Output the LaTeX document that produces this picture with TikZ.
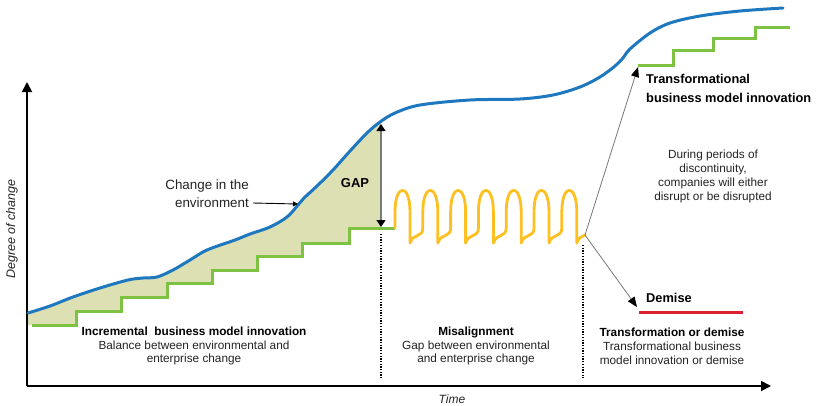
\documentclass[tikz,border=0pt]{standalone}
\usepackage{fontspec}
\setmainfont{Liberation Sans}
\usetikzlibrary{arrows.meta}
\definecolor{cblue}{RGB}{30,120,192}
\definecolor{cgreen}{RGB}{125,194,66}
\definecolor{cyellow}{RGB}{252,192,35}
\definecolor{cred}{RGB}{222,32,48}
\definecolor{cfill}{RGB}{221,224,178}
\definecolor{ctext}{RGB}{35,35,35}
\definecolor{cgray}{RGB}{120,120,120}
\begin{document}
\begin{tikzpicture}[x=1pt,y=-1pt,
  axis/.style={line width=1.8pt,-{Triangle[width=10pt,length=10pt]}},
  envline/.style={cblue,line width=3pt,line cap=round},
  stepline/.style={cgreen,line width=3pt},
  waveline/.style={cyellow,line width=2.8pt,line join=round,line cap=round},
  demiseline/.style={cred,line width=3pt},
  gaparrow/.style={cgray,line width=1.3pt,{Triangle[width=9pt,length=7pt,color=black]}-{Triangle[width=9pt,length=7pt,color=black]}},
  patharrow/.style={cgray,line width=0.8pt,-{Triangle[width=8pt,length=10pt,color=black]}},
  pointer/.style={black,line width=0.9pt,-{Triangle[width=5pt,length=5pt]}},
  divider/.style={black,line width=1.3pt,dash pattern=on 1.3pt off 1.4pt},
  headtxt/.style={font=\fontsize{12}{14}\selectfont\bfseries,text=black,inner sep=0pt},
  bodytxt/.style={font=\fontsize{11.8}{13.8}\selectfont,text=ctext,align=center,inner sep=0pt},
  bigtxt/.style={font=\fontsize{12.8}{19}\selectfont\bfseries,text=black,inner sep=0pt,align=left},
  envtxt/.style={font=\fontsize{13.4}{18}\selectfont,text=ctext,inner sep=0pt,align=right},
  axistxt/.style={font=\fontsize{12}{14}\selectfont\itshape,text=ctext,inner sep=0pt}
]
\useasboundingbox (0,0) rectangle (819,405);

\def\envpoints{(28,313) (50,306) (73,297) (100,288) (128,280) (143,278) (157,277) (173,270)
 (190,260) (207,250) (235,240) (250,234) (270,227) (287,217) (298,205) (304,198) (317,186)
 (333,170) (350,151) (367,133) (380,122) (395,113) (420,105) (470,100) (520,99)
 (553,95) (580,87) (600,77) (615,66) (623,58) (630,49) (650,33) (670,23)
 (700,16) (740,11) (783,8)}

% gap fill between environment curve and enterprise steps
\begin{scope}
\clip (0,0) rectangle (381,405);
\fill[cfill] plot[smooth,tension=0.55] coordinates {\envpoints}
 -- (790,228) -- (349,228) -- (349,243) -- (302,243) -- (302,256) -- (257,256)
 -- (257,270) -- (212,270) -- (212,283) -- (167,283) -- (167,297) -- (121,297)
 -- (121,311) -- (76,311) -- (76,325) -- (28,325) -- cycle;
\end{scope}

% axes
\coordinate (origin) at (27,386);
\coordinate (ytop) at (27,82);
\coordinate (xend) at (771,386);
\draw[axis] (origin) -- (ytop);
\draw[axis] (origin) -- (xend);

% enterprise steps
\draw[stepline] (32,325) -- (76,325) -- (76,311) -- (121,311) -- (121,297) -- (167,297)
 -- (167,283) -- (212,283) -- (212,270) -- (257,270) -- (257,256) -- (302,256)
 -- (302,243) -- (349,243) -- (349,228) -- (395,228);
\draw[stepline] (638,65) -- (673,65) -- (673,50) -- (713,50) -- (713,38) -- (755,38)
 -- (755,27) -- (790,27);

% environment curve
\draw[envline] plot[smooth,tension=0.55] coordinates {\envpoints};

% misalignment wave
\draw[waveline] (395,228)
 \foreach \i [evaluate=\i as \a using {395+27.8*\i}] in {0,...,5} {
   -- (\a,212) .. controls (\a,183) and (\a+15,183) .. (\a+15,212) -- (\a+15,243)
   .. controls (\a+18,233) and (\a+27.8,238) .. (\a+27.8,228) }
 -- (561.8,212) .. controls (561.8,183) and (576.8,183) .. (576.8,212) -- (576.8,243)
 .. controls (578.5,238) and (581.5,236) .. (585,235);

% gap arrow
\coordinate (gaptop) at (381,124);
\coordinate (gapbot) at (381,227);
\draw[gaparrow] (gaptop) -- (gapbot);
\node[headtxt,font=\fontsize{13}{15}\selectfont\bfseries] (gap) at (355,183) {GAP};

% dividers
\coordinate (d1a) at (381,234);
\coordinate (d1b) at (381,378);
\coordinate (d2a) at (583,245);
\coordinate (d2b) at (583,378);
\draw[divider] (d1a) -- (d1b);
\draw[divider] (d2a) -- (d2b);

% branch arrows
\coordinate (split) at (585,235);
\coordinate (uptip) at (638,67);
\coordinate (downtip) at (637,307);
\draw[patharrow] (split) -- (uptip);
\draw[patharrow] (split) -- (downtip);

% demise line
\coordinate (dmA) at (639,312);
\coordinate (dmB) at (743,312);
\draw[demiseline] (dmA) -- (dmB);

% texts
\node[envtxt,anchor=east] (env) at (249,194) {Change in the\\environment};
\coordinate (envstart) at (253,203);
\coordinate (envpt) at (298,204);
\draw[pointer] (envstart) -- (envpt);

\node[bigtxt,anchor=west] (transf) at (646,88.5) {Transformational\\business model innovation};
\node[bigtxt,anchor=west] (demise) at (646,298) {Demise};
\node[bodytxt] (during) at (713,176.5)
 {During periods of\\discontinuity,\\companies will either\\disrupt or be disrupted};

\node[bodytxt] (incr) at (194,346) {\textbf{\color{black}Incremental\ \ business model innovation}\\Balance between environmental and\\enterprise change};
\node[bodytxt] (mis) at (476,346) {\textbf{\color{black}Misalignment}\\Gap between environmental\\and enterprise change};
\node[bodytxt] (tod) at (672,346) {\textbf{\color{black}Transformation or demise}\\Transformational business\\model innovation or demise};

\node[axistxt] (time) at (452,399) {Time};
\node[axistxt,rotate=90,font=\fontsize{12.5}{14}\selectfont\itshape] (degree) at (12,229) {Degree of change};
\end{tikzpicture}
\end{document}
